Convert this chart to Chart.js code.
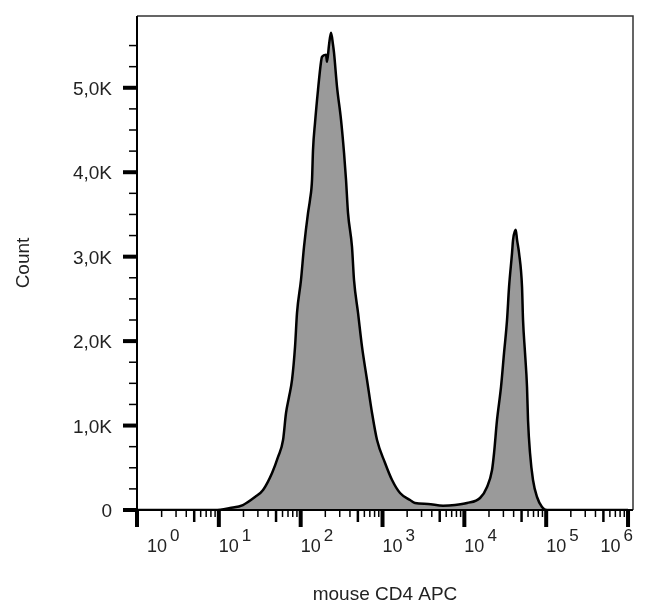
<!DOCTYPE html>
<html>
<head>
<meta charset="utf-8">
<title>mouse CD4 APC histogram</title>
<script src="https://cdn.jsdelivr.net/npm/chart.js@4.4.0/dist/chart.umd.min.js"></script>
<style>
  html, body { margin: 0; padding: 0; background: #fff; }
  #wrap { width: 650px; height: 615px; }
</style>
</head>
<body>
<div id="wrap"><canvas id="histo" width="650" height="615"></canvas></div>
<script>
// APC channel intensity and event counts
const intensity = [
    1, 8.98, 13.7, 19.7, 27.7, 34.7, 44.7, 52.9, 60.9, 66.2,
    72.0, 78.4, 85.3, 90.2, 100.9, 109.8, 123.0, 130.0, 137.6, 141.5,
    149.7, 162.9, 177.3, 182.4, 204.2, 209.9, 222.0, 234.9, 248.4, 255.4,
    278.0, 311.2, 338.7, 358.2, 378.7, 423.8, 448.3, 502.2, 562.0, 646.9,
    744.7, 857.0, 1074, 1308, 1637, 2169, 2495, 3597, 5486, 7690,
    10790, 15550, 18930, 21790, 23070, 25070, 28060, 30550, 33240, 35170,
    38260, 39370, 42450, 44050, 46560, 50660, 52120, 55120, 58300, 59960,
    63440, 68990, 77250, 88900, 102300, 1000000
];
const counts = [
    0, 0, 24, 59, 154, 237, 438, 628, 829, 1149,
    1339, 1540, 1931, 2334, 2725, 3116, 3519, 3673, 3910, 4265,
    4585, 4976, 5308, 5367, 5391, 5308, 5509, 5652, 5509, 5415,
    5012, 4621, 4230, 3910, 3519, 3116, 2725, 2334, 1931, 1540,
    1149, 829, 557, 355, 201, 118, 83, 71, 51, 59,
    83, 142, 273, 474, 675, 1066, 1457, 1860, 2251, 2642,
    3045, 3199, 3318, 3199, 3045, 2642, 2251, 1860, 1457, 1066,
    675, 355, 154, 36, 0, 0
];

// x axis decades (10^0 .. 10^6) and minor tick steps inside a decade
const decades = [0, 1, 2, 3, 4, 5, 6];
const minorSteps = [2, 3, 4, 5, 6, 7, 8, 9];
const xMin = 1;
const xMax = 1150000;
const yMax = 5850;

const FONT = "'Liberation Sans', Arial, sans-serif";

function yLabel(v) {
    if (v % 1000) return '';
    if (v === 0) return '0';
    return (v / 1000).toFixed(1).replace('.', ',') + 'K';
}

// frame, tick marks and 10^n labels (FlowJo style)
const axisMarks = {
    id: 'axisMarks',
    afterDatasetsDraw(chart) {
        const { ctx, chartArea: a, scales: { x, y } } = chart;
        ctx.save();
        ctx.lineCap = 'butt';

        ctx.strokeStyle = '#333';
        ctx.lineWidth = 1.5;
        ctx.beginPath();
        ctx.moveTo(a.left, a.top);
        ctx.lineTo(a.right, a.top);
        ctx.lineTo(a.right, a.bottom);
        ctx.stroke();

        ctx.strokeStyle = '#000';
        ctx.lineWidth = 2;
        ctx.beginPath();
        ctx.moveTo(a.left, a.top);
        ctx.lineTo(a.left, a.bottom);
        ctx.lineTo(a.right, a.bottom);
        ctx.stroke();

        // y ticks
        y.ticks.forEach(t => {
            if (t.value % 250) return;
            const py = y.getPixelForValue(t.value);
            const major = t.value % 1000 === 0;
            ctx.lineWidth = major ? 4 : 1.5;
            ctx.beginPath();
            ctx.moveTo(a.left - (major ? 14 : 8), py);
            ctx.lineTo(a.left, py);
            ctx.stroke();
        });

        // x ticks
        const xTick = (v, len, w) => {
            const px = x.getPixelForValue(v);
            ctx.lineWidth = w;
            ctx.beginPath();
            ctx.moveTo(px, a.bottom);
            ctx.lineTo(px, a.bottom + len);
            ctx.stroke();
        };
        decades.forEach(e => {
            const base = Math.pow(10, e);
            xTick(base, 17, 4);
            if (e < 6) {
                minorSteps.forEach(s => xTick(s * base, s === 5 ? 12 : 7, s === 5 ? 2.5 : 1.5));
            }
        });

        // x labels: 10 with raised exponent
        ctx.fillStyle = '#222';
        ctx.textAlign = 'left';
        ctx.textBaseline = 'alphabetic';
        decades.forEach(e => {
            const px = x.getPixelForValue(Math.pow(10, e));
            ctx.font = '18px ' + FONT;
            const w10 = ctx.measureText('10').width;
            ctx.font = '17px ' + FONT;
            const wExp = ctx.measureText(String(e)).width;
            let lx = Math.max(px, a.left + 10);
            lx = Math.min(lx, a.right - (w10 + 3 + wExp));
            ctx.font = '18px ' + FONT;
            ctx.fillText('10', lx, 552);
            ctx.font = '17px ' + FONT;
            ctx.fillText(String(e), lx + w10 + 3, 541);
        });

        ctx.restore();
    }
};

new Chart(document.getElementById('histo'), {
    type: 'line',
    data: {
        datasets: [{
            label: 'mouse CD4 APC',
            data: intensity.map((v, i) => ({ x: v, y: counts[i] })),
            borderColor: '#000',
            borderWidth: 2.5,
            backgroundColor: '#9a9a9a',
            fill: 'origin',
            pointRadius: 0,
            cubicInterpolationMode: 'monotone'
        }]
    },
    options: {
        responsive: false,
        animation: false,
        devicePixelRatio: 1,
        layout: { padding: { top: 16, right: 17, left: 0, bottom: 0 } },
        plugins: { legend: { display: false }, tooltip: { enabled: false } },
        scales: {
            x: {
                type: 'logarithmic',
                min: xMin,
                max: xMax,
                grid: { display: false, drawTicks: false },
                border: { display: false },
                ticks: { display: false },
                title: {
                    display: true,
                    text: 'mouse CD4 APC',
                    color: '#222',
                    font: { family: FONT, size: 19 },
                    padding: { top: 4, bottom: 9 }
                },
                afterFit: s => {
                    s.height = 105;
                    s.paddingLeft = 0;
                    s.paddingRight = 0;
                }
            },
            y: {
                type: 'linear',
                min: 0,
                max: yMax,
                grid: { display: false, drawTicks: false },
                border: { display: false },
                ticks: {
                    stepSize: 250,
                    autoSkip: false,
                    padding: 25,
                    labelOffset: 2,
                    color: '#222',
                    font: { family: FONT, size: 19 },
                    callback: yLabel
                },
                title: {
                    display: true,
                    text: 'Count',
                    color: '#222',
                    font: { family: FONT, size: 19 },
                    padding: { top: 12, bottom: 0 }
                },
                afterFit: s => {
                    s.width = 137;
                    s.paddingTop = 0;
                    s.paddingBottom = 0;
                }
            }
        }
    },
    plugins: [axisMarks]
});
</script>
</body>
</html>
